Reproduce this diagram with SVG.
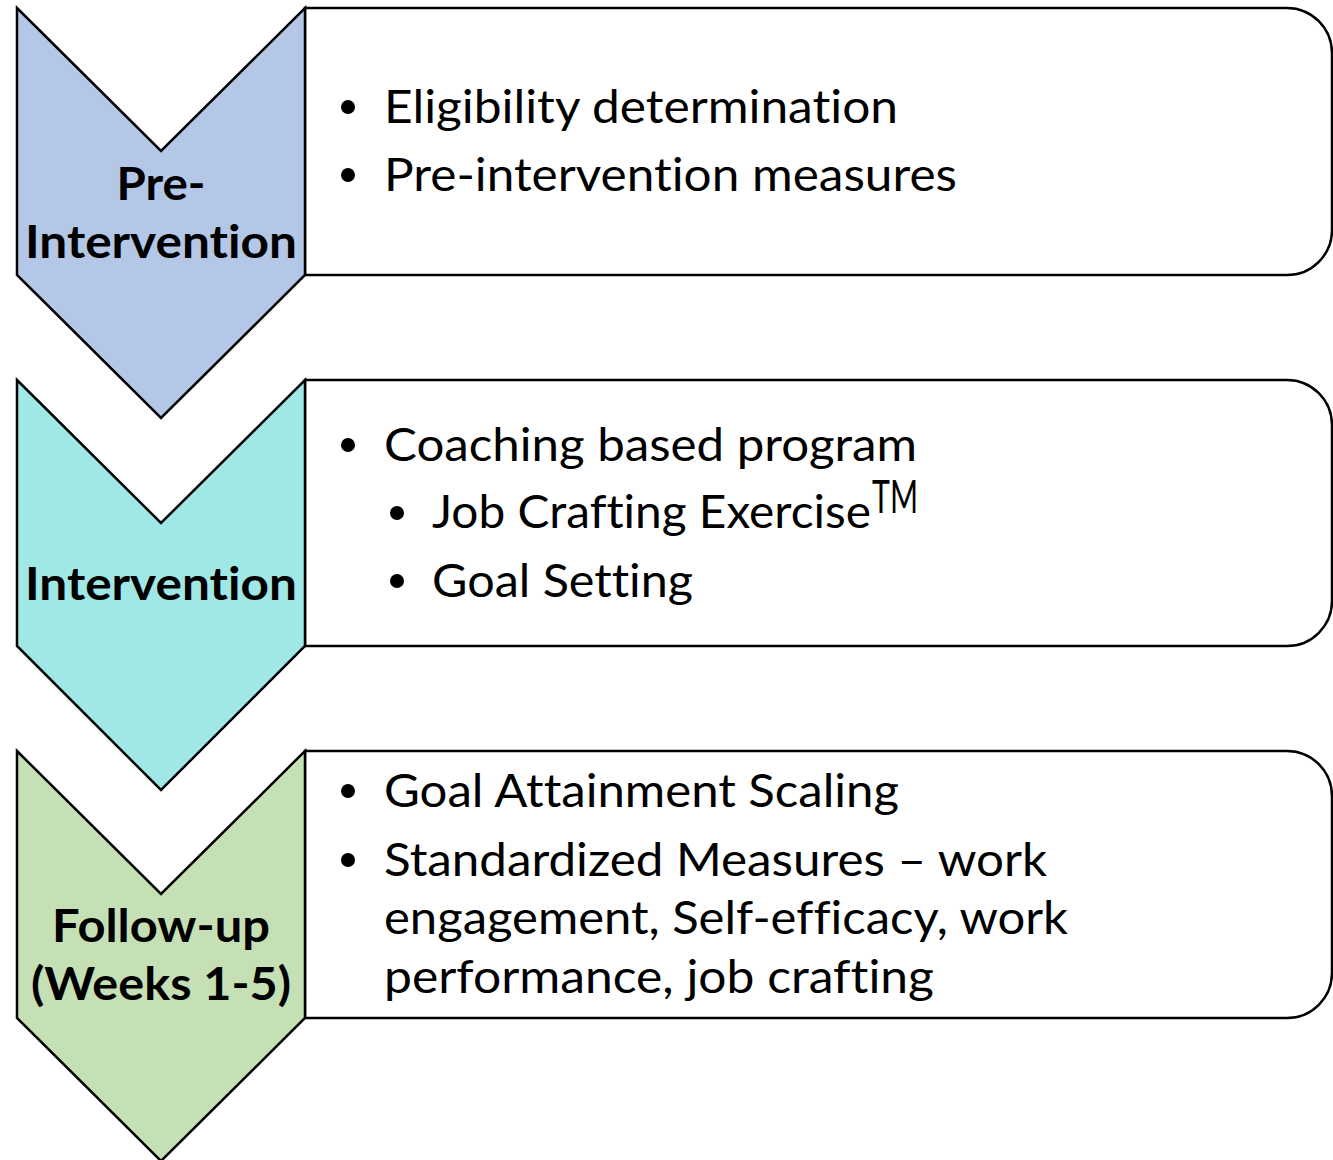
<svg xmlns="http://www.w3.org/2000/svg" width="1333" height="1160" viewBox="0 0 1333 1160">
<style>
.box{fill:#fff;stroke:#000;stroke-width:2.5}
.chev{stroke:#000;stroke-width:2.5;stroke-linejoin:miter}
.lbl{font-family:Lato,"Open Sans",sans-serif;font-weight:bold;font-size:46px;fill:#000;text-anchor:middle;font-variant-ligatures:none}
.t{font-family:Lato,"Open Sans",sans-serif;font-size:46px;fill:#000;font-variant-ligatures:none}
.b{fill:#000}
</style>
<rect width="1333" height="1160" fill="#fff"/>
<g id="box1">
<path class="box" d="M305,8 H1287 A45,45 0 0 1 1332,53 V230 A45,45 0 0 1 1287,275 H305 Z"/>
<circle class="b" cx="348" cy="107" r="7"/>
<text class="t" x="384" y="123" textLength="514" lengthAdjust="spacingAndGlyphs">Eligibility determination</text>
<circle class="b" cx="348" cy="175" r="7"/>
<text class="t" x="384" y="191" textLength="573" lengthAdjust="spacingAndGlyphs">Pre-intervention measures</text>
</g>
<g id="box2">
<path class="box" d="M305,380 H1287 A45,45 0 0 1 1332,425 V601 A45,45 0 0 1 1287,646 H305 Z"/>
<circle class="b" cx="348" cy="445" r="7"/>
<text class="t" x="384" y="461" textLength="533" lengthAdjust="spacingAndGlyphs">Coaching based program</text>
<circle class="b" cx="397" cy="513" r="7"/>
<text class="t" x="432" y="528" textLength="439" lengthAdjust="spacingAndGlyphs">Job Crafting Exercise</text>
<text class="t" x="872" y="513" font-size="31" textLength="46" lengthAdjust="spacingAndGlyphs">TM</text>
<circle class="b" cx="397" cy="581" r="7"/>
<text class="t" x="432" y="597" textLength="261" lengthAdjust="spacingAndGlyphs">Goal Setting</text>
</g>
<g id="box3">
<path class="box" d="M305,751 H1287 A45,45 0 0 1 1332,796 V973 A45,45 0 0 1 1287,1018 H305 Z"/>
<circle class="b" cx="348" cy="791" r="7"/>
<text class="t" x="384" y="807" textLength="515" lengthAdjust="spacingAndGlyphs">Goal Attainment Scaling</text>
<circle class="b" cx="348" cy="860" r="7"/>
<text class="t" x="384" y="876" textLength="663" lengthAdjust="spacingAndGlyphs">Standardized Measures – work</text>
<text class="t" x="384" y="934" textLength="684" lengthAdjust="spacingAndGlyphs">engagement, Self-efficacy, work</text>
<text class="t" x="384" y="993" textLength="550" lengthAdjust="spacingAndGlyphs">performance, job crafting</text>
</g>
<g id="chev1">
<path class="chev" fill="#B4C7E7" d="M17,8 L161,151 L305,8 V275 L161,418 L17,275 Z"/>
<text class="lbl" x="161" y="200" textLength="89" lengthAdjust="spacingAndGlyphs">Pre-</text>
<text class="lbl" x="161" y="258" textLength="272" lengthAdjust="spacingAndGlyphs">Intervention</text>
</g>
<g id="chev2">
<path class="chev" fill="#A0E8E6" d="M17,380 L161,523 L305,380 V646 L161,790 L17,646 Z"/>
<text class="lbl" x="161" y="600" textLength="272" lengthAdjust="spacingAndGlyphs">Intervention</text>
</g>
<g id="chev3">
<path class="chev" fill="#C5E0B4" d="M17,751 L161,894 L305,751 V1018 L161,1161 L17,1018 Z"/>
<text class="lbl" x="161" y="942" textLength="218" lengthAdjust="spacingAndGlyphs">Follow-up</text>
<text class="lbl" x="161" y="1000" textLength="260" lengthAdjust="spacingAndGlyphs">(Weeks 1-5)</text>
</g>
<g id="connectors"></g>
</svg>
